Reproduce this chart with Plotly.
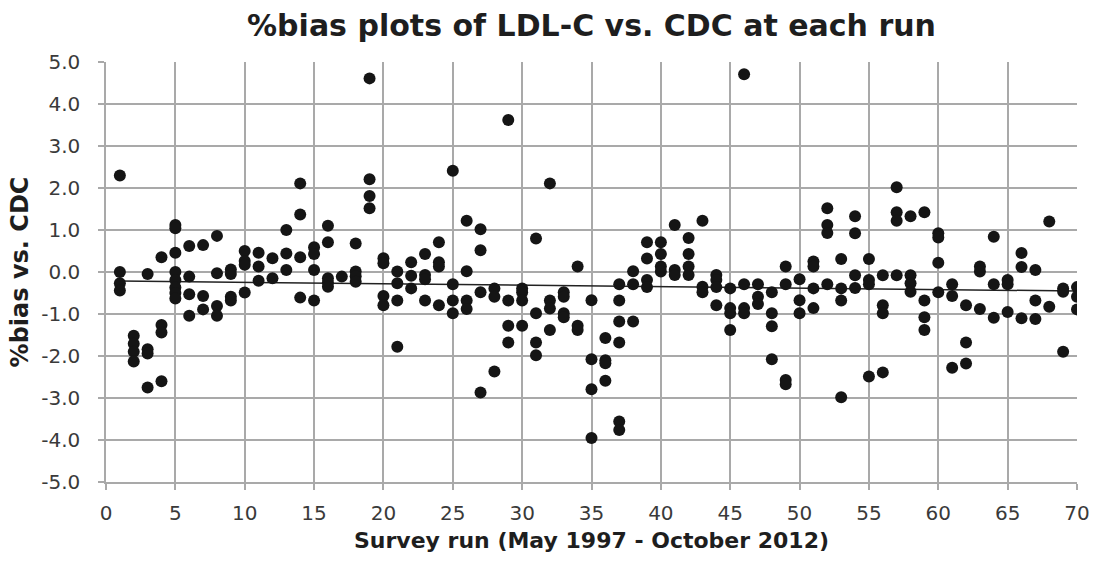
import numpy as np
import plotly.graph_objects as go

# Survey run number and %bias values, grouped by run
bias_by_run = {
    1: [2.3, 0.0, -0.27, -0.44],
    2: [-1.52, -1.71, -1.9, -2.13],
    3: [-0.05, -1.84, -1.94, -2.75],
    4: [0.35, -1.26, -1.44, -2.6],
    5: [1.12, 1.04, 0.46, 0.0, -0.19, -0.37, -0.5, -0.63],
    6: [0.62, -0.11, -0.53, -1.04],
    7: [0.64, -0.57, -0.89],
    8: [0.86, -0.03, -0.81, -1.04],
    9: [0.06, -0.05, -0.59, -0.68],
    10: [0.5, 0.26, 0.17, -0.49],
    11: [0.46, 0.13, -0.21],
    12: [0.33, -0.15],
    13: [1.0, 0.44, 0.05],
    14: [2.11, 1.37, 0.35, -0.61],
    15: [0.59, 0.43, 0.05, -0.68],
    16: [1.1, 0.71, -0.15, -0.25, -0.35],
    17: [-0.11],
    18: [0.68, 0.01, -0.1, -0.23],
    19: [4.61, 2.21, 1.81, 1.52],
    20: [0.33, 0.21, -0.57, -0.79],
    21: [0.01, -0.27, -0.68, -1.78],
    22: [0.23, -0.09, -0.39],
    23: [0.43, -0.07, -0.17, -0.68],
    24: [0.71, 0.23, 0.13, -0.79],
    25: [2.41, -0.29, -0.68, -0.98],
    26: [1.22, 0.02, -0.68, -0.88],
    27: [1.02, 0.52, -0.48, -2.87],
    28: [-0.39, -0.59, -2.37],
    29: [3.62, -0.68, -1.28, -1.68],
    30: [-0.39, -0.48, -0.68, -1.28],
    31: [0.8, -0.98, -1.68, -1.98],
    32: [2.11, -0.68, -0.87, -1.38],
    33: [-0.48, -0.59, -0.98, -1.08],
    34: [0.13, -1.28, -1.38],
    35: [-0.67, -2.08, -2.79, -3.95],
    36: [-1.57, -2.1, -2.17, -2.59],
    37: [-0.29, -0.68, -1.18, -1.68, -3.56, -3.76],
    38: [0.02, -0.29, -1.18],
    39: [0.71, 0.32, -0.19, -0.36],
    40: [0.71, 0.43, 0.13, 0.01],
    41: [1.12, 0.05, -0.07],
    42: [0.81, 0.43, 0.13, -0.07],
    43: [1.22, -0.35, -0.48],
    44: [-0.07, -0.19, -0.36, -0.79],
    45: [-0.39, -0.86, -0.98, -1.38],
    46: [4.71, -0.29, -0.86, -0.98],
    47: [-0.29, -0.59, -0.76],
    48: [-0.48, -0.98, -1.29, -2.08],
    49: [0.13, -0.29, -2.57, -2.67],
    50: [-0.17, -0.67, -0.98],
    51: [0.25, 0.13, -0.39, -0.86],
    52: [1.52, 1.12, 0.93, -0.29],
    53: [0.31, -0.39, -0.68, -2.98],
    54: [1.33, 0.92, -0.08, -0.38],
    55: [0.31, -0.19, -0.29, -2.49],
    56: [-0.08, -0.79, -0.98, -2.39],
    57: [2.02, 1.42, 1.22, -0.08],
    58: [1.33, -0.08, -0.27, -0.47],
    59: [1.42, -0.68, -1.08, -1.38],
    60: [0.92, 0.82, 0.22, -0.48],
    61: [-0.29, -0.57, -2.28],
    62: [-0.79, -1.68, -2.18],
    63: [0.13, 0.01, -0.88],
    64: [0.84, -0.29, -1.09],
    65: [-0.19, -0.29, -0.95],
    66: [0.45, 0.12, -1.1],
    67: [0.05, -0.68, -1.12],
    68: [1.2, -0.83],
    69: [-0.39, -0.47, -1.9],
    70: [-0.36, -0.59, -0.89],
}

runs = [r for r, vals in bias_by_run.items() for _ in vals]
bias = [v for vals in bias_by_run.values() for v in vals]

x_ticks = list(range(0, 71, 5))
y_ticks = [float(v) for v in range(-5, 6)]

# Linear trend line (least squares) over the data
slope, intercept = np.polyfit(runs, bias, 1)
trend_x = [min(runs), max(runs)]
trend_y = [intercept + slope * x for x in trend_x]

FONT = "DejaVu Sans, Liberation Sans, Arial, sans-serif"
GRID = "#a9a9a9"

fig = go.Figure()
fig.add_trace(go.Scatter(
    x=trend_x, y=trend_y, mode="lines",
    line=dict(color="#222222", width=1.5),
    hoverinfo="skip", showlegend=False,
))
fig.add_trace(go.Scatter(
    x=runs, y=bias, mode="markers",
    marker=dict(color="#151515", size=12, line=dict(width=0)),
    showlegend=False,
))

fig.update_layout(
    width=1101, height=561,
    margin=dict(l=106, r=24, t=62, b=79),
    paper_bgcolor="white", plot_bgcolor="white",
    font=dict(family=FONT, color="#3a3a3a", size=20),
    title=dict(
        text="<b>%bias plots of LDL-C vs. CDC at each run</b>",
        x=(106 + 1077) / 2 / 1101, xanchor="center",
        y=1 - 25 / 561, yanchor="middle",
        font=dict(family=FONT, size=30, color="#1e1e1e"),
    ),
    xaxis=dict(
        range=[0, 70], tickvals=x_ticks, ticktext=[str(t) for t in x_ticks],
        showgrid=True, gridcolor=GRID, gridwidth=1.5,
        showline=True, linecolor=GRID, linewidth=1.5,
        ticks="outside", ticklen=6, tickcolor=GRID, tickwidth=1.5,
        ticklabelstandoff=6,
        zeroline=False, mirror=False,
        tickfont=dict(size=20, color="#3a3a3a"),
        title=dict(text="<b>Survey run (May 1997 - October 2012)</b>",
                   font=dict(size=22, color="#1e1e1e"), standoff=9),
    ),
    yaxis=dict(
        range=[-5, 5], tickvals=y_ticks, ticktext=[f"{t:.1f}" for t in y_ticks],
        showgrid=True, gridcolor=GRID, gridwidth=1.5,
        showline=True, linecolor=GRID, linewidth=1.5,
        ticks="outside", ticklen=6, tickcolor=GRID, tickwidth=1.5,
        ticklabelstandoff=14,
        zeroline=False,
        tickfont=dict(size=20, color="#3a3a3a"),
        title=dict(text="<b>%bias vs. CDC</b>",
                   font=dict(size=24, color="#1e1e1e"), standoff=6),
    ),
)

fig.write_html("out.html")
